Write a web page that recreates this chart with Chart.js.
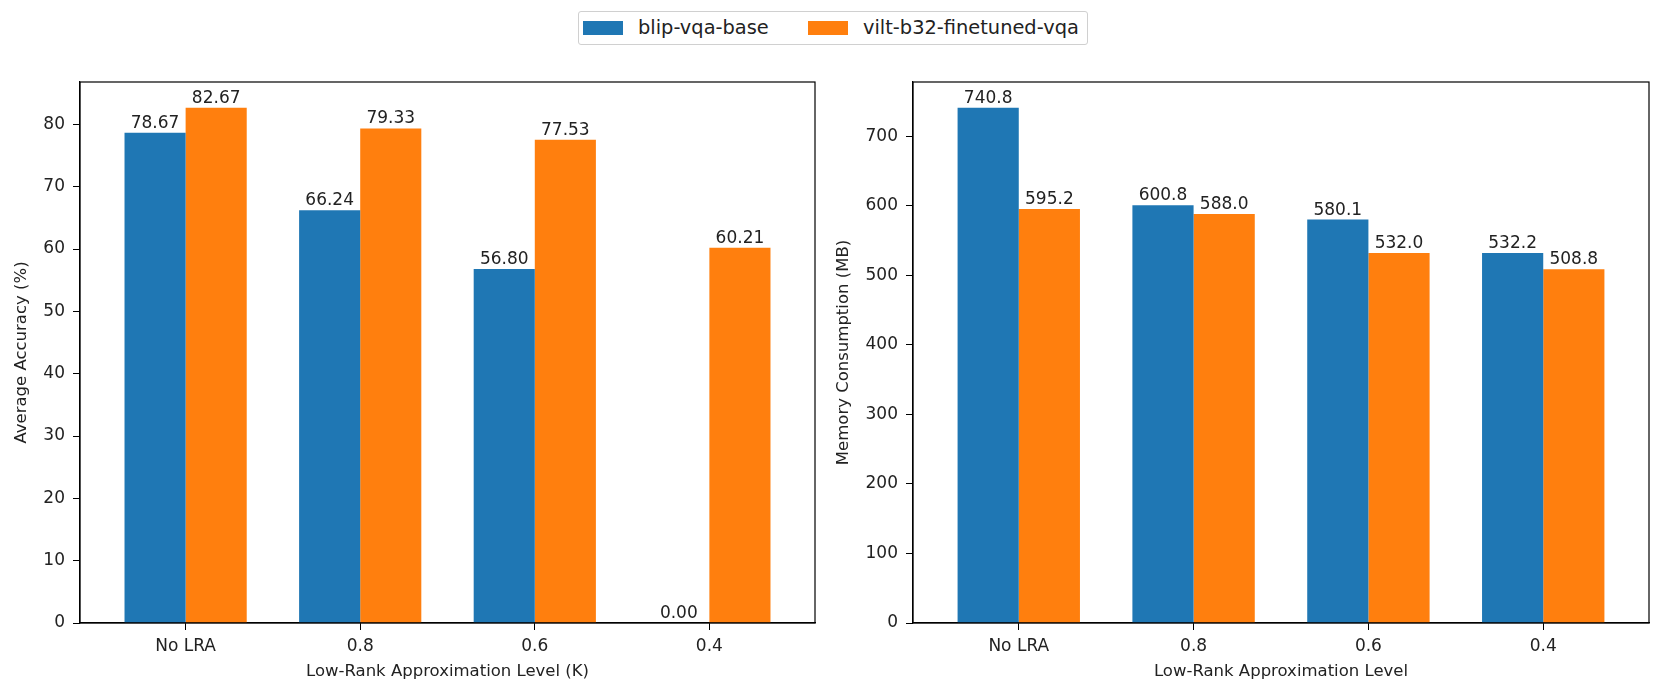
<!DOCTYPE html>
<html>
<head>
<meta charset="utf-8">
<script src="https://cdn.jsdelivr.net/npm/chart.js@4.4.1/dist/chart.umd.min.js"></script>
<style>
  html, body { margin: 0; padding: 0; background: #fff; }
  body { width: 1661px; height: 696px; position: relative; overflow: hidden; font-family: "DejaVu Sans", sans-serif; }
  #legend { position: absolute; left: 578px; top: 11px; width: 510px; height: 34px; border: 1px solid #d0d0d0; border-radius: 3px; box-sizing: border-box; font-size: 19.4px; color: #222; }
  .sw { position: absolute; top: 9px; width: 40px; height: 14px; }
  .tx { position: absolute; top: 0; height: 32px; line-height: 32px; white-space: nowrap; }
  #c1wrap { position: absolute; left: 0; top: 60px; width: 830px; height: 636px; }
  #c2wrap { position: absolute; left: 830px; top: 60px; width: 831px; height: 636px; }
</style>
</head>
<body>
<div id="legend">
  <div class="sw" style="left:4px;background:#1f77b4"></div><span class="tx" id="l0" style="left:59px"></span>
  <div class="sw" style="left:229px;background:#ff7f0e"></div><span class="tx" id="l1" style="left:284px"></span>
</div>
<div id="c1wrap"><canvas id="c1"></canvas></div>
<div id="c2wrap"><canvas id="c2"></canvas></div>
<script>
const categories = ["No LRA", "0.8", "0.6", "0.4"];
const seriesNames = ["blip-vqa-base", "vilt-b32-finetuned-vqa"];
const accuracyBlip = [78.67, 66.24, 56.80, 0.00];
const accuracyVilt = [82.67, 79.33, 77.53, 60.21];
const memoryBlip = [740.8, 600.8, 580.1, 532.2];
const memoryVilt = [595.2, 588.0, 532.0, 508.8];
const accuracyTicks = [0, 10, 20, 30, 40, 50, 60, 70, 80];
const memoryTicks = [0, 100, 200, 300, 400, 500, 600, 700];

document.getElementById('l0').textContent = seriesNames[0];
document.getElementById('l1').textContent = seriesNames[1];

const FONT = "'DejaVu Sans', sans-serif";
const FS = 16.5;
const TFS = 17;
const TXT = '#222';
Chart.defaults.font.family = FONT;
Chart.defaults.color = TXT;

const framePlugin = {
  id: 'frame',
  afterDraw(chart) {
    const a = chart.chartArea, ctx = chart.ctx;
    ctx.save();
    ctx.strokeStyle = '#000';
    ctx.lineWidth = 1.2;
    ctx.strokeRect(a.left, a.top, a.right - a.left, a.bottom - a.top);
    ctx.restore();
  }
};

const labelPlugin = {
  id: 'barLabels',
  afterDatasetsDraw(chart, args, opts) {
    const ctx = chart.ctx;
    ctx.save();
    ctx.font = TFS + "px " + FONT;
    ctx.fillStyle = TXT;
    ctx.textAlign = 'center';
    ctx.textBaseline = 'bottom';
    chart.data.datasets.forEach((ds, i) => {
      const meta = chart.getDatasetMeta(i);
      meta.data.forEach((bar, j) => {
        ctx.fillText(ds.data[j].y.toFixed(opts.digits), bar.x, bar.y - 1);
      });
    });
    ctx.restore();
  }
};

function pts(vals) { return vals.map((v, i) => ({ x: i, y: v })); }

function makeChart(id, a, b, ticks, maxY, yTitle, xTitle, digits, yWidth, rightPad, yTitlePad) {
  return new Chart(document.getElementById(id), {
    type: 'bar',
    data: {
      datasets: [
        { label: seriesNames[0], data: pts(a), backgroundColor: '#1f77b4', categoryPercentage: 0.7, barPercentage: 1.0 },
        { label: seriesNames[1], data: pts(b), backgroundColor: '#ff7f0e', categoryPercentage: 0.7, barPercentage: 1.0 }
      ]
    },
    options: {
      responsive: true,
      maintainAspectRatio: false,
      animation: false,
      layout: { padding: { top: 22, right: rightPad, bottom: 0, left: 0 } },
      plugins: {
        legend: { display: false },
        tooltip: { enabled: false },
        barLabels: { digits: digits }
      },
      scales: {
        x: {
          type: 'linear',
          min: -0.605, max: 3.605,
          offset: false,
          afterBuildTicks(s) { s.ticks = categories.map((c, i) => ({ value: i })); },
          grid: { display: true, offset: false, drawOnChartArea: false, drawTicks: true, tickLength: 7, color: '#000', lineWidth: 1 },
          border: { display: true, color: '#000', width: 1.2 },
          ticks: { color: TXT, font: { size: TFS }, padding: 6, autoSkip: false, maxRotation: 0,
                   callback: (v) => categories[Math.round(v)] },
          title: { display: true, text: xTitle, color: TXT, font: { size: FS }, padding: { top: 2, bottom: 14 } },
          afterFit(s) { s.height = 73; }
        },
        y: {
          min: 0, max: maxY,
          afterBuildTicks(s) { s.ticks = ticks.map(v => ({ value: v })); },
          grid: { display: true, drawOnChartArea: false, drawTicks: true, tickLength: 7, color: '#000', lineWidth: 1 },
          border: { display: true, color: '#000', width: 1.2 },
          ticks: { color: TXT, font: { size: TFS }, padding: 8 },
          title: { display: true, text: yTitle, color: TXT, font: { size: FS }, padding: { top: yTitlePad, bottom: 4 } },
          afterFit(s) { s.width = yWidth; }
        }
      }
    },
    plugins: [framePlugin, labelPlugin]
  });
}

makeChart('c1', accuracyBlip, accuracyVilt, accuracyTicks, 86.8, 'Average Accuracy (%)', 'Low-Rank Approximation Level (K)', 2, 80, 15, 12);
makeChart('c2', memoryBlip, memoryVilt, memoryTicks, 778, 'Memory Consumption (MB)', 'Low-Rank Approximation Level', 1, 83, 12, 3.5);
</script>
</body>
</html>
